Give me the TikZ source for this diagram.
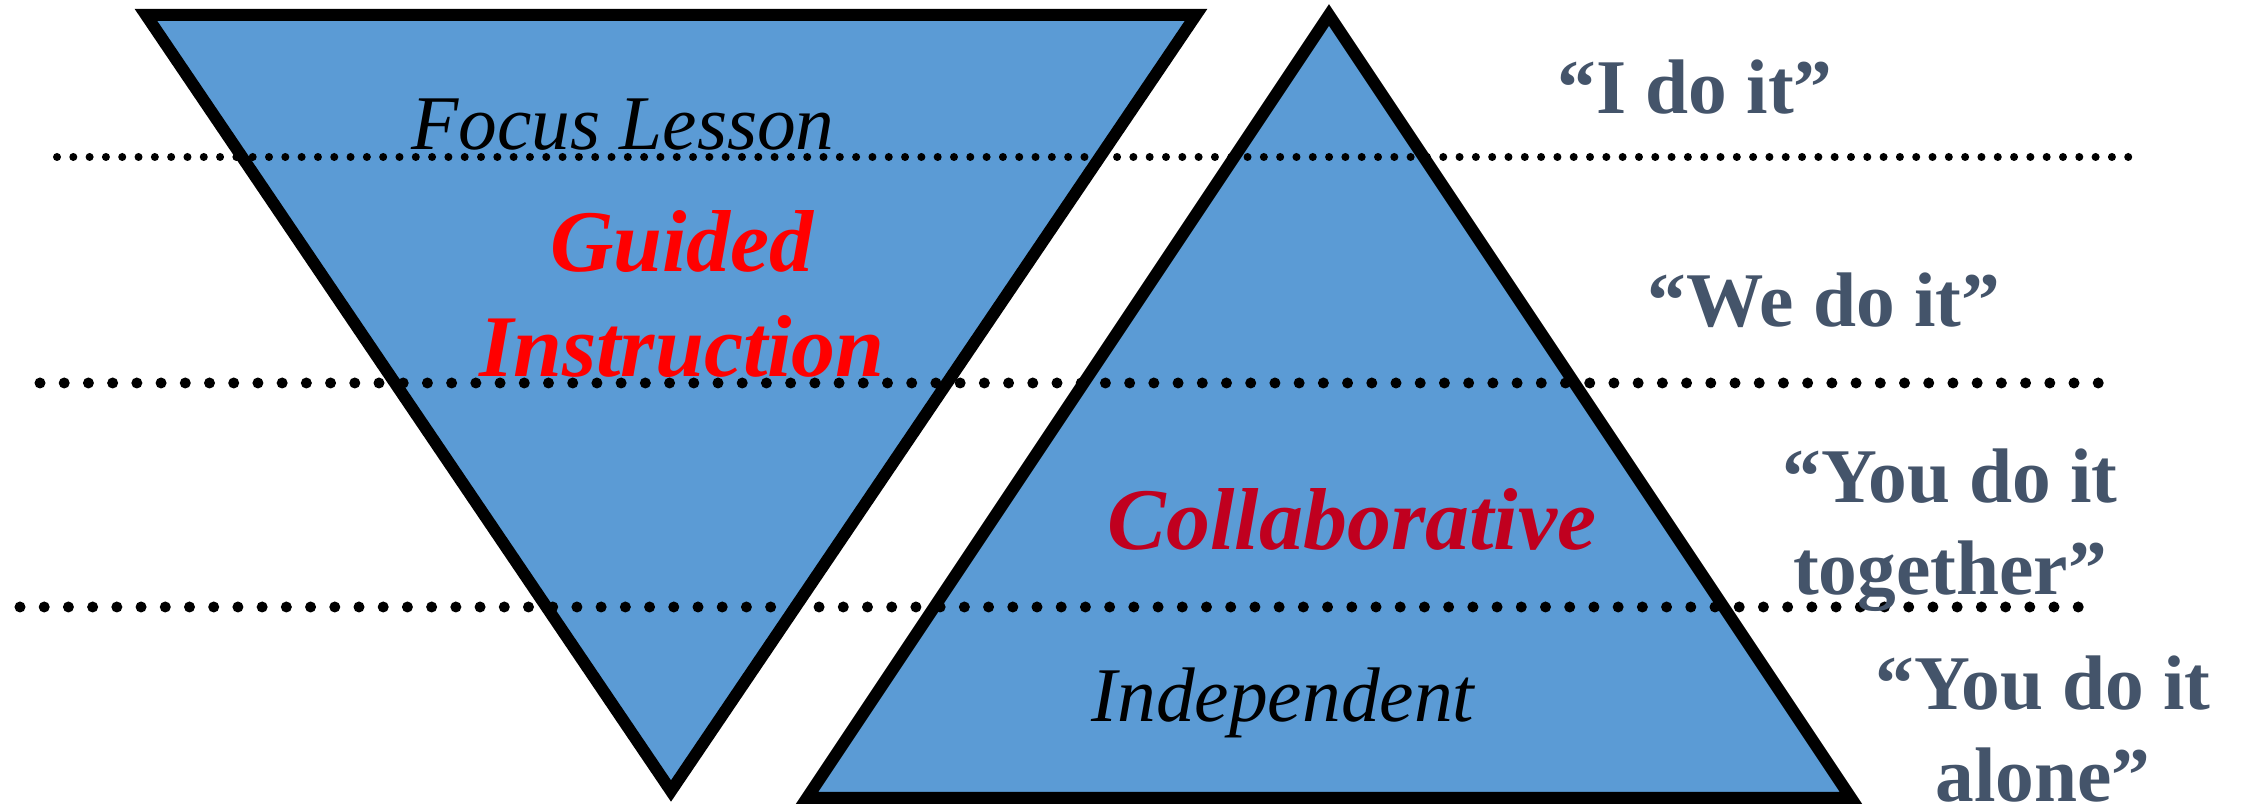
\documentclass[tikz,border=0pt]{standalone}
\usepackage{fontspec}
\setmainfont{Liberation Serif}
\usepackage{tikz}
\usetikzlibrary{positioning}
\definecolor{triblue}{HTML}{5B9BD5}
\definecolor{voicegray}{HTML}{44546A}
\definecolor{guidered}{HTML}{FF0000}
\definecolor{collabred}{HTML}{C0001F}
\tikzset{zone/.style = {draw, line width=0.12cm, fill=triblue, line join=miter}}
\tikzset{stage/.style = {font=\fontsize{22}{26.4}\selectfont\itshape, anchor=base, inner sep=0pt}}
\tikzset{phase/.style = {font=\fontsize{25}{30}\selectfont\bfseries\itshape, anchor=base, align=center, inner sep=0pt}}
\tikzset{voice/.style = {font=\fontsize{22}{26.3}\selectfont\bfseries, text=voicegray, anchor=base, align=center, inner sep=0pt}}
\tikzset{fineline/.style = {line width=0.08cm, line cap=round, dash pattern=on 0pt off 0.163cm}}
\tikzset{coarseline/.style = {line width=0.11cm, line cap=round, dash pattern=on 0pt off 0.242cm}}

\begin{document}
\begin{tikzpicture}[x=0.01cm, y=0.01cm]
  \useasboundingbox (0,0) rectangle (2241,809);

  % teacher triangle (upside down) and student triangle
  \coordinate (tl) at (146,794);
  \coordinate (tr) at (1196,794);
  \coordinate (tb) at (671,18);
  \coordinate (sl) at (807,11);
  \coordinate (sr) at (1851,11);
  \coordinate (st) at (1329,794);
  \draw [zone] (tl) -- (tr) -- (tb) -- cycle;
  \draw [zone] (sl) -- (sr) -- (st) -- cycle;

  % multi-line nodes sit on the baseline of their last line
  \node [stage] (focus) at (623,659) {Focus Lesson};
  \node [phase, text=guidered] (guided) at (682,432) {Guided\\Instruction};
  \node [phase, text=collabred] (collab) at (1352,259) {Collaborative};
  \node [stage] (indep) at (1283,87) {Independent};

  % dotted borders between the stages
  \coordinate (d1a) at (57,652);
  \coordinate (d1b) at (2130,652);
  \coordinate (d2a) at (40,426);
  \coordinate (d2b) at (2100,426);
  \coordinate (d3a) at (20,202);
  \coordinate (d3b) at (2085,202);
  \draw [fineline] (d1a) -- (d1b);
  \draw [coarseline] (d2a) -- (d2b);
  \draw [coarseline] (d3a) -- (d3b);

  \node [voice] (ido) at (1695,695) {“I do it”};
  \node [voice] (wedo) at (1824,482) {“We do it”};
  \node [voice] (youtog) at (1950,214) {“You do it\\together”};
  \node [voice] (youalone) at (2043,7) {“You do it\\alone”};
\end{tikzpicture}
\end{document}
